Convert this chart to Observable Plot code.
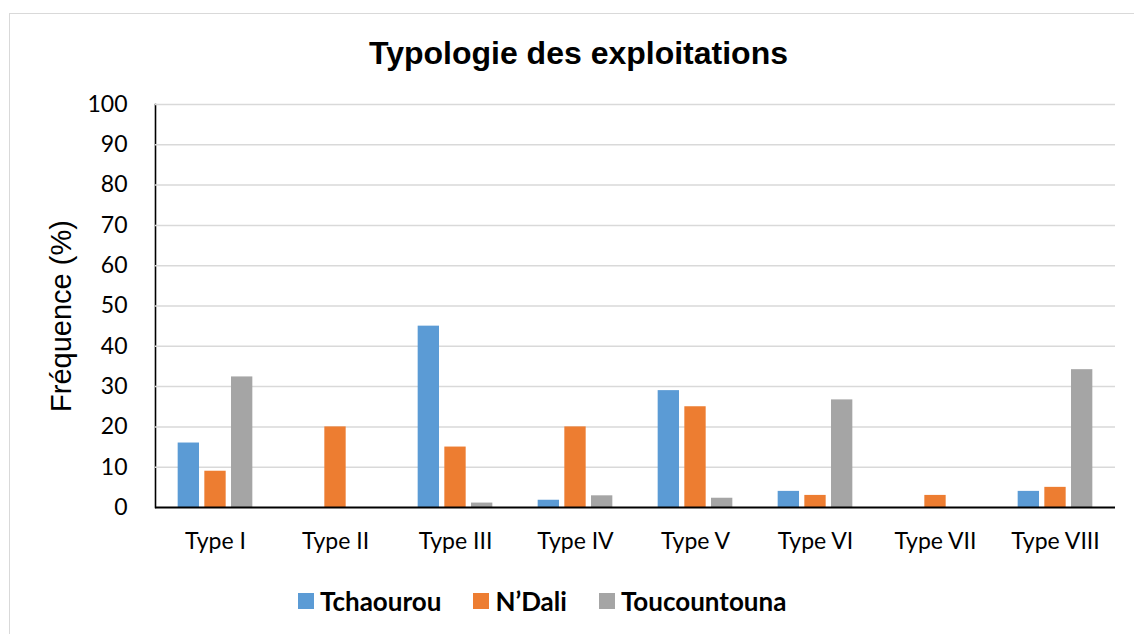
<!DOCTYPE html>
<html>
<head>
<meta charset="utf-8">
<script src="https://cdn.jsdelivr.net/npm/d3@7"></script>
<script src="https://cdn.jsdelivr.net/npm/@observablehq/plot@0.6"></script>
<style>
  html, body { margin: 0; padding: 0; background: #fff; }
  #wrap { position: relative; width: 1134px; height: 634px; overflow: hidden; background: #fff; }
  #frame { position: absolute; left: 9px; top: 13px; width: 1200px; height: 700px; border: 1px solid #d9d9d9; box-sizing: border-box; }
  #title { position: absolute; left: 0; width: 1157px; top: 37px; text-align: center; font-family: "Liberation Sans", Arial, sans-serif; font-weight: bold; font-size: 32px; line-height: 1; color: #000; }
  #ylabel { position: absolute; left: 61px; top: 316px; transform: translate(-50%, -50%) rotate(-90deg); font-family: "Liberation Sans", Arial, sans-serif; font-size: 29px; line-height: 1; white-space: nowrap; color: #000; }
  #chart { position: absolute; left: 0; top: 70px; }
  #legend { position: absolute; left: 298px; top: 585px; display: flex; align-items: center; font-family: Lato, sans-serif; font-weight: bold; font-size: 26px; color: #000; }
  #legend .item { display: flex; align-items: center; margin-right: 32px; }
  #legend .sw { width: 16px; height: 16px; margin-right: 6px; }
</style>
</head>
<body>
<div id="wrap">
  <div id="frame"></div>
  <div id="title">Typologie des exploitations</div>
  <div id="ylabel">Fréquence (%)</div>
  <div id="chart"></div>
  <div id="legend"></div>
</div>
<script>
const types = ["Type I", "Type II", "Type III", "Type IV", "Type V", "Type VI", "Type VII", "Type VIII"];
const series = ["Tchaourou", "N\u2019Dali", "Toucountouna"];
const colors = ["#5b9bd5", "#ed7d31", "#a5a5a5"];
const tchaourou = [16, 0, 45, 1.8, 29, 4, 0, 4];
const ndali = [9, 20, 15, 20, 25, 3, 3, 5];
const toucountouna = [32.4, 0, 1.1, 2.9, 2.3, 26.7, 0, 34.2];
const yTicks = [0, 10, 20, 30, 40, 50, 60, 70, 80, 90, 100];

const values = [tchaourou, ndali, toucountouna];
const data = types.flatMap((t, i) => series.map((s, j) => ({type: t, series: s, value: values[j][i]})));

const chart = Plot.plot({
  width: 1134,
  height: 500,
  marginLeft: 152,
  marginRight: 17,
  marginTop: 34,
  marginBottom: 63,
  style: {fontFamily: "Lato, sans-serif", fontSize: "23px", color: "#000", background: "transparent"},
  fx: {domain: types, padding: 0, axis: "bottom", label: null, tickSize: 0, tickPadding: 25},
  x: {domain: series, axis: null, paddingInner: 0.2, paddingOuter: 0.85, round: false},
  y: {domain: [0, 100], ticks: yTicks, tickSize: 0, tickPadding: 28, label: null, line: true},
  color: {domain: series, range: colors},
  marks: [
    Plot.ruleY(yTicks.filter(d => d > 0), {stroke: "#d9d9d9", strokeWidth: 1.5}),
    Plot.barY(data, {fx: "type", x: "series", y: "value", fill: "series"}),
    Plot.ruleY([0], {stroke: "#000", strokeWidth: 1.8})
  ]
});
d3.select(chart).selectAll('[aria-label="frame"]').attr("stroke", "#000").attr("stroke-width", 1.6).attr("stroke-opacity", 1);
document.getElementById("chart").appendChild(chart);

const legend = document.getElementById("legend");
series.forEach((s, j) => {
  const item = document.createElement("div");
  item.className = "item";
  const sw = document.createElement("div");
  sw.className = "sw";
  sw.style.background = colors[j];
  const label = document.createElement("span");
  label.textContent = s;
  item.appendChild(sw);
  item.appendChild(label);
  legend.appendChild(item);
});
</script>
</body>
</html>
